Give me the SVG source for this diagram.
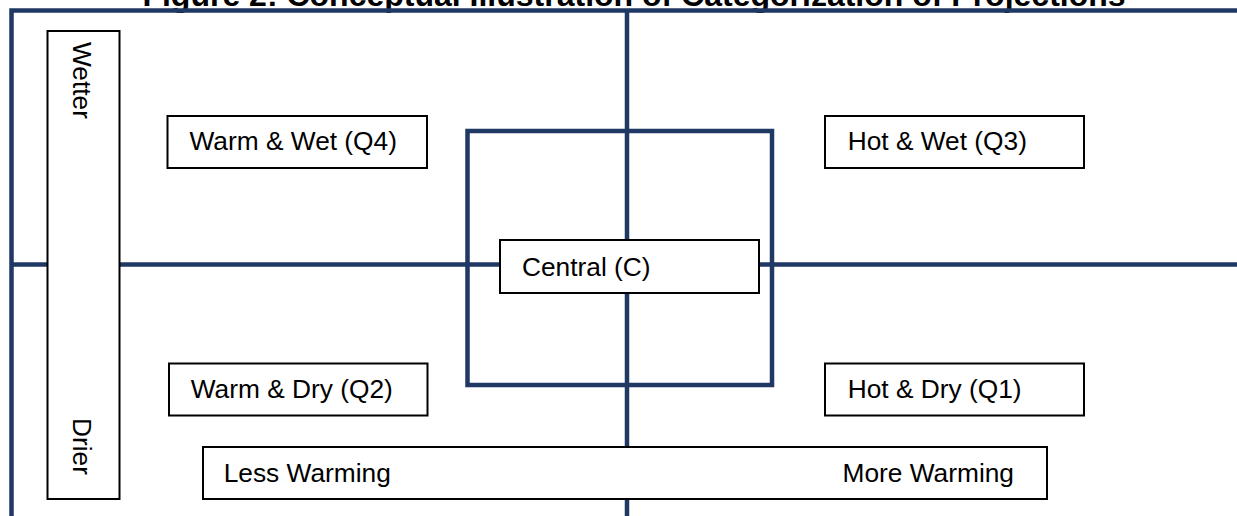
<svg xmlns="http://www.w3.org/2000/svg" width="1237" height="516" viewBox="0 0 1237 516">
<style>
.t{font-family:"Liberation Sans",Arial,sans-serif;font-size:26.3px;fill:#000}
.title{font-family:"Liberation Sans",Arial,sans-serif;font-size:32px;font-weight:bold;fill:#000}
.box{fill:#fff;stroke:#000;stroke-width:2}
.ax{fill:none;stroke:#1F3864;stroke-width:4.5}
</style>
<rect width="1237" height="516" fill="#fff"/>
<text class="title" x="634" y="6" text-anchor="middle">Figure 2: Conceptual Illustration of Categorization of Projections</text>
<g id="connectors">
<rect class="ax" x="11.5" y="10.5" width="1240" height="520"/>
<line class="ax" x1="627" y1="10.5" x2="627" y2="516"/>
<line class="ax" x1="11.5" y1="264.5" x2="1237" y2="264.5"/>
<rect class="ax" x="467.5" y="131" width="304.5" height="254"/>
</g>
<g id="axis-y">
<rect class="box" x="47.5" y="31" width="72" height="468"/>
<text class="t" transform="translate(72.5,42) rotate(90)">Wetter</text>
<text class="t" transform="translate(72.5,418) rotate(90)">Drier</text>
</g>
<g id="axis-x">
<rect class="box" x="203" y="447" width="844" height="52"/>
<text class="t" x="223.7" y="481.7">Less Warming</text>
<text class="t" x="1014" y="481.7" text-anchor="end">More Warming</text>
</g>
<g id="q4">
<rect class="box" x="167.5" y="116" width="259.5" height="52"/>
<text class="t" x="189.5" y="150">Warm &amp; Wet (Q4)</text>
</g>
<g id="q3">
<rect class="box" x="825" y="116" width="259" height="52"/>
<text class="t" x="847.7" y="150">Hot &amp; Wet (Q3)</text>
</g>
<g id="central">
<rect class="box" x="500" y="240" width="259" height="53"/>
<text class="t" x="522" y="275.7">Central (C)</text>
</g>
<g id="q2">
<rect class="box" x="169" y="363.5" width="258.5" height="52"/>
<text class="t" x="190.7" y="397.7">Warm &amp; Dry (Q2)</text>
</g>
<g id="q1">
<rect class="box" x="825" y="363.5" width="259" height="52"/>
<text class="t" x="847.7" y="397.7">Hot &amp; Dry (Q1)</text>
</g>
</svg>
